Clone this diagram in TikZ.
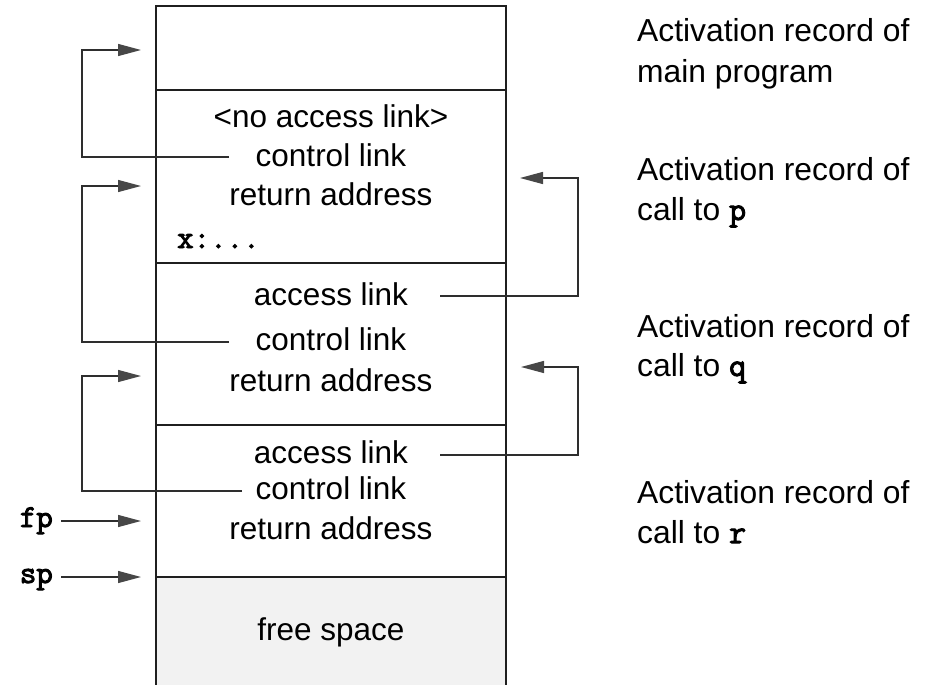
\documentclass[tikz,border=0pt]{standalone}
\usepackage{fontspec}
\setmainfont{Liberation Sans}
\setmonofont{Latin Modern Mono}[FakeBold=3]
\usetikzlibrary{arrows.meta}
\begin{document}
\begin{tikzpicture}[x=1pt,y=-1pt,
  lbl/.style={font=\fontsize{31.5}{38}\selectfont, inner sep=0pt, anchor=base},
  rlbl/.style={font=\fontsize{31.8}{38}\selectfont, inner sep=0pt, anchor=base west},
  code/.style={font=\fontsize{32}{36}\selectfont\ttfamily, inner sep=0pt},
  frame/.style={draw=black!88, line width=1.6pt, minimum width=350pt, inner sep=0pt},
  link/.style={draw=black!82, line width=1.3pt},
  arr/.style={link, -{Triangle[length=23pt,width=12pt,fill=black!72,color=black!72]}}
]
\useasboundingbox (0,0) rectangle (929,685);
\newcommand{\cd}[1]{{\ttfamily\fontsize{33}{38}\selectfont #1}}

% stack frames
\node[frame, minimum height=84pt] (mainrec) at (331,48) {};
\node[frame, minimum height=173pt] (prec) at (331,176.5) {};
\node[frame, minimum height=162pt] (qrec) at (331,344) {};
\node[frame, minimum height=152pt] (rrec) at (331,501) {};
\node[frame, fill=black!5, minimum height=113pt] (freerec) at (331,633.5) {};

% texts in frames
\node[lbl] (noacc) at (331,127) {<no access link>};
\node[lbl] (cl1) at (331,166) {control link};
\node[lbl] (ra1) at (331,205) {return address};
\node[code, anchor=base west] (xvar) at (177,248) {x:...};
\node[lbl] (acc2) at (331,305) {access link};
\node[lbl] (cl2) at (331,350) {control link};
\node[lbl] (ra2) at (331,391) {return address};
\node[lbl] (acc3) at (331,463) {access link};
\node[lbl] (cl3) at (331,499) {control link};
\node[lbl] (ra3) at (331,539) {return address};
\node[lbl] (freetxt) at (331,640) {free space};

% right labels
\node[rlbl] (m1) at (637,42) {Activation record of};
\node[rlbl] (m2) at (637,82) {main program};
\node[rlbl] (p1) at (637,180) {Activation record of};
\node[rlbl] (p2) at (637,220) {call to \cd{p}};
\node[rlbl] (q1) at (637,337) {Activation record of};
\node[rlbl] (q2) at (637,376) {call to \cd{q}};
\node[rlbl] (r1) at (637,503) {Activation record of};
\node[rlbl] (r2) at (637,543) {call to \cd{r}};

% fp / sp
\node[code, anchor=base east] (fp) at (53,527) {fp};
\node[code, anchor=base east] (sp) at (53,583) {sp};

% connector coordinates
\coordinate (c1s) at (229,157);
\coordinate (c1b) at (82,50);
\coordinate (c1t) at (141,50);
\coordinate (c2s) at (229,342);
\coordinate (c2b) at (82,186);
\coordinate (c2t) at (141,186);
\coordinate (c3s) at (242,491);
\coordinate (c3b) at (82,376);
\coordinate (c3t) at (141,376);
\coordinate (fps) at (61,521);
\coordinate (fpt) at (141,521);
\coordinate (sps) at (61,577);
\coordinate (spt) at (141,577);
\coordinate (a2s) at (440,296);
\coordinate (a2b) at (578,178);
\coordinate (a2t) at (520,178);
\coordinate (a3s) at (440,455);
\coordinate (a3b) at (578,367);
\coordinate (a3t) at (521,367);

\draw[arr] (c1s) -| (c1b) -- (c1t);
\draw[arr] (c2s) -| (c2b) -- (c2t);
\draw[arr] (c3s) -| (c3b) -- (c3t);
\draw[arr] (fps) -- (fpt);
\draw[arr] (sps) -- (spt);
\draw[arr] (a2s) -| (a2b) -- (a2t);
\draw[arr] (a3s) -| (a3b) -- (a3t);
\end{tikzpicture}
\end{document}
